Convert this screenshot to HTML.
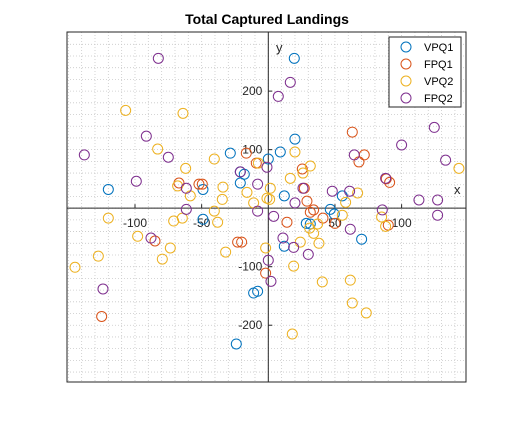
<!DOCTYPE html>
<html><head><meta charset="utf-8"><style>
body{margin:0;background:#fff;}
svg{display:block;font-family:"Liberation Sans",sans-serif;}
</style></head><body>
<svg id="chart" width="516" height="429">
<rect width="516" height="429" fill="#fff"/>
<text x="267" y="24" text-anchor="middle" font-size="14" font-weight="bold" fill="#000">Total Captured Landings</text>
<g id="grid"></g>
<g id="axes"></g>
<g id="marks"></g>
<rect x="67" y="32" width="399" height="350" fill="none" stroke="#262626" stroke-width="1"/>
<g id="legend"></g>
</svg>
<script>
const xTicks=[-100,-50,50,100];
const yTicks=[200,100,-100,-200];
const seriesNames=["VPQ1","FPQ1","VPQ2","FPQ2"];
const seriesColors=["#0072BD","#D95319","#EDB120","#7E2F8E"];
const vpq1X=[-120,-49,-28.5,-21,-18,-21,0,19.5,20,9,12,55.5,46.5,49.5,28.5,31.5,12,70,-49,-11,-8,-24];
const vpq1Y=[32,32,94,62,58,43,84,256,118,96,21,21,-2,-10,-26,-27,-65,-53,-19,-145,-142,-232];
const fpq1X=[-16.5,-67,-52,-49.5,-9,63,72,68,25.5,27,29,34,31.5,14,41,50,90,88.5,91,-23,-20,-2,-85,-125];
const fpq1Y=[94,43,41,41,77,130,91,79,67,34,12,-3,-7,-24,-17,-26,-29,50,44,-58,-58,-111,-56,-185];
const vpq2X=[-107,-64,-83,-40.5,-62,-68,-58.5,-34,-34.5,-16,-11,-1,-7.5,20,31.5,26,16.5,1.5,1,67,58,143,-40.5,-38,55.5,31,34,38,24,-2,-32,19,85,88,37,40.5,61.5,63,73.5,18,-120,-71,-64.5,-98,-73.5,-79.5,-127.5,-145];
const vpq2Y=[167,162,101,84,68,38,21,36,15,27,9,17,77,96,72,60,51,34,15,26,10,68,-5,-24,-12,-34,-43,-60,-58,-68,-75,-99,-15,-31,-27,-126,-123,-162,-179,-215,-17,-22,-17,-48,-68,-87,-82,-101];
const fpq2X=[-82.5,-91.5,-138,-75,-99,-61.5,-8,-1,-61.5,-8,16.5,7.5,124.5,100,64.5,133,88,26,48,61,113,127,20,85.5,4,127,61.5,11,19,30,0,2,-88,-124,-21];
const fpq2Y=[256,123,91,87,46,34,41,70,-2,-5,215,191,138,108,91,82,51,34,29,29,14,14,9,-3,-14,-12,-36,-51,-67,-79,-89,-125,-51,-138,62];
const allX=[vpq1X,fpq1X,vpq2X,fpq2X], allY=[vpq1Y,fpq1Y,vpq2Y,fpq2Y];
const L=67,R=466,T=32,B=382,xMin=-151,xMax=148.3,yMin=-297,yMax=301;
const sx=v=>L+(v-xMin)/(xMax-xMin)*(R-L);
const sy=v=>B-(v-yMin)/(yMax-yMin)*(B-T);
const NS="http://www.w3.org/2000/svg";
function mk(tag,attrs,parent){const e=document.createElementNS(NS,tag);for(const k in attrs)e.setAttribute(k,attrs[k]);parent.appendChild(e);return e;}
const grid=document.getElementById('grid');
for(let v=-150;v<xMax;v+=10){if(sx(v)<=L+1)continue;const l=mk('line',{x1:sx(v),x2:sx(v),y1:T,y2:B,stroke:'#c8c8c8','stroke-width':0.8,'stroke-dasharray':'1,2'},grid);

}
for(let v=-280;v<yMax;v+=20){if(sy(v)<=T+1||sy(v)>=B-1)continue;const l=mk('line',{x1:L,x2:R,y1:sy(v),y2:sy(v),stroke:'#c8c8c8','stroke-width':0.8,'stroke-dasharray':'1,2'},grid);

}
const axes=document.getElementById('axes');
const xa=mk('line',{x1:L,x2:R,y1:sy(0),y2:sy(0),stroke:'#262626','stroke-width':1},axes);


const ya=mk('line',{x1:sx(0),x2:sx(0),y1:T,y2:B,stroke:'#262626','stroke-width':1},axes);


xTicks.forEach(v=>{mk('line',{x1:sx(v),x2:sx(v),y1:sy(0),y2:sy(0)-4,stroke:'#262626'},axes);
const t=mk('text',{x:sx(v),y:sy(0)+19,'text-anchor':'middle','font-size':12,fill:'#262626'},axes);t.textContent=v;

});
yTicks.forEach(v=>{mk('line',{x1:sx(0),x2:sx(0)+4,y1:sy(v),y2:sy(v),stroke:'#262626'},axes);
const t=mk('text',{x:sx(0)-6,y:sy(v)+4,'text-anchor':'end','font-size':12,fill:'#262626'},axes);t.textContent=v;

});
const xl=mk('text',{x:454,y:194,'font-size':13,fill:'#262626'},axes);xl.textContent='x';


const yl=mk('text',{x:276,y:52,'font-size':13,fill:'#262626'},axes);yl.textContent='y';


const marks=document.getElementById('marks');
allX.forEach((xs,s)=>{xs.forEach((x,i)=>{const c=mk('circle',{cx:sx(x),cy:sy(allY[s][i]),r:5,fill:'none',stroke:seriesColors[s],'stroke-width':1},marks);

});});
const lg=document.getElementById('legend');
mk('rect',{x:389,y:37,width:72,height:70,fill:'#fff',stroke:'#262626','stroke-width':1},lg);
seriesNames.forEach((n,i)=>{const y=47+i*17;
mk('circle',{cx:406,cy:y,r:5,fill:'none',stroke:seriesColors[i],'stroke-width':1},lg);
const t=mk('text',{x:424,y:y+4,'font-size':11,fill:'#000'},lg);t.textContent=n;

});
</script>
</body></html>
